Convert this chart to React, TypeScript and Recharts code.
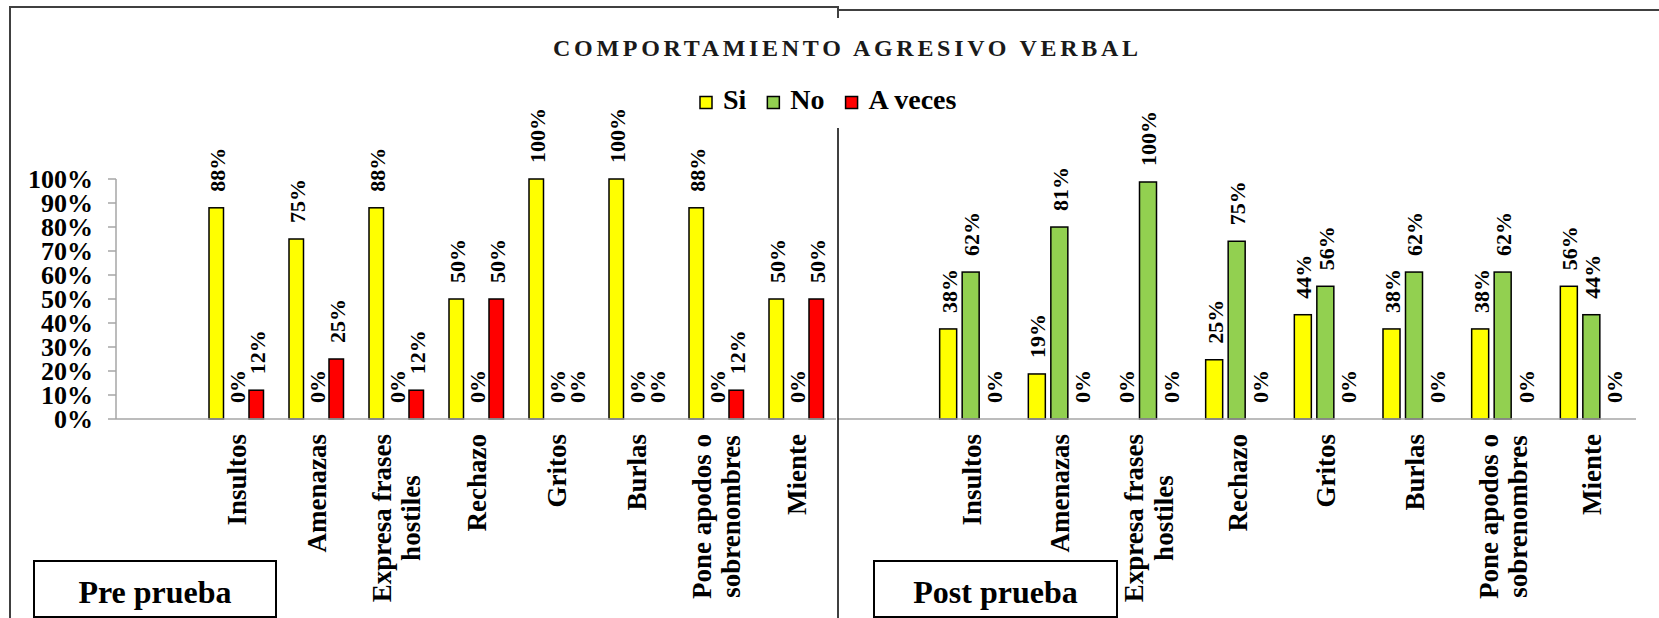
import { BarChart, Bar, XAxis, YAxis } from 'recharts';

const categories = [
  'Insultos',
  'Amenazas',
  'Expresa frases\nhostiles',
  'Rechazo',
  'Gritos',
  'Burlas',
  'Pone apodos o\nsobrenombres',
  'Miente',
];
const seriesNames = ['Si', 'No', 'A veces'];

// Pre prueba (%)
const preSi = [88, 75, 88, 50, 100, 100, 88, 50];
const preNo = [0, 0, 0, 0, 0, 0, 0, 0];
const preAveces = [12, 25, 12, 50, 0, 0, 12, 50];

// Post prueba (%)
const postSi = [38, 19, 0, 25, 44, 38, 38, 56];
const postNo = [62, 81, 100, 75, 56, 62, 62, 44];
const postAveces = [0, 0, 0, 0, 0, 0, 0, 0];

const yTicks = [0, 10, 20, 30, 40, 50, 60, 70, 80, 90, 100];

const title = 'COMPORTAMIENTO AGRESIVO VERBAL';
const panelTitles = ['Pre prueba', 'Post prueba'];

const FONT = "'Liberation Serif', 'Times New Roman', serif";
const COLORS = ['#FFFF00', '#92D050', '#FF0000'];
const KEYS = ['si', 'no', 'av'];
const AXIS_GREY = '#a6a6a6';
const FRAME = '#404040';

// first slot on the category axis is left empty, as in the original
function buildRows(si: number[], no: number[], av: number[]) {
  return [
    { name: '' },
    ...categories.map((name, i) => ({ name, si: si[i], no: no[i], av: av[i] })),
  ];
}

const preRows = buildRows(preSi, preNo, preAveces);
const postRows = buildRows(postSi, postNo, postAveces);

let measureCtx: CanvasRenderingContext2D | null = null;
function textWidth(s: string, size: number) {
  if (!measureCtx) measureCtx = document.createElement('canvas').getContext('2d');
  if (!measureCtx) return s.length * size * 0.5;
  measureCtx.font = `bold ${size}px ${FONT}`;
  return measureCtx.measureText(s).width;
}

function CategoryTick(props: any) {
  const { x, y, payload } = props;
  if (!payload || !payload.value) return null;
  const lines = String(payload.value).split('\n');
  const n = lines.length;
  const lh = 29.5;
  const common = {
    fontFamily: FONT,
    fontSize: 27,
    fontWeight: 'bold' as const,
    fill: '#000',
  };
  if (n === 1) {
    return (
      <text transform={`translate(${x},${y}) rotate(-90)`} textAnchor="end" dy="0.36em" {...common}>
        {lines[0]}
      </text>
    );
  }
  const w = Math.max(...lines.map((l) => textWidth(l, 27)));
  return (
    <g transform={`translate(${x},${y}) rotate(-90)`}>
      {lines.map((l, i) => (
        <text key={i} x={-w / 2} y={(i - (n - 1) / 2) * lh} dy="0.36em" textAnchor="middle" {...common}>
          {l}
        </text>
      ))}
    </g>
  );
}

// bar + its rotated value label; zero values get a 1px min size so they still come through here
function makeShape(key: string, color: string) {
  return (props: any) => {
    const { x, y, width, height, payload } = props;
    const value = payload ? payload[key] : null;
    if (value == null) return <g />;
    const top = value > 0 ? y : y + height;
    const cx = x + width / 2;
    return (
      <g>
        {value > 0 && (
          <rect x={x} y={y} width={width} height={height} fill={color} stroke="#000" strokeWidth={1.5} />
        )}
        <text
          transform={`translate(${cx},${top - 16}) rotate(-90)`}
          textAnchor="start"
          dy="0.38em"
          fontFamily={FONT}
          fontSize={22}
          fontWeight="bold"
          fill="#000"
        >
          {`${value}%`}
        </text>
      </g>
    );
  };
}

const shapes = KEYS.map((k, i) => makeShape(k, COLORS[i]));

function renderBars(barSize: number) {
  return KEYS.map((k, i) => (
    <Bar
      key={k}
      dataKey={k}
      name={seriesNames[i]}
      fill={COLORS[i]}
      barSize={barSize}
      minPointSize={1}
      shape={shapes[i]}
      isAnimationActive={false}
    />
  ));
}

function Legend() {
  let cx = 700;
  const items = seriesNames.map((name, i) => {
    const sq = cx;
    const tx = cx + 23;
    cx = tx + textWidth(name, 28) + 21;
    return (
      <g key={name}>
        <rect x={sq} y={96.5} width={12} height={12} fill={COLORS[i]} stroke="#000" strokeWidth={1.5} />
        <text x={tx} y={109} fontFamily={FONT} fontSize={28} fontWeight="bold" fill="#000">
          {name}
        </text>
      </g>
    );
  });
  return <g>{items}</g>;
}

export default function App() {
  return (
    <div
      style={{
        position: 'absolute',
        left: 0,
        top: 0,
        width: 1659,
        height: 618,
        background: '#fff',
        overflow: 'hidden',
      }}
    >
      <div style={{ position: 'absolute', left: 0, top: 0 }}>
        <BarChart
          width={840}
          height={618}
          data={preRows}
          margin={{ top: 179, right: 4, left: 0, bottom: 0 }}
          barGap={5.5}
        >
          <XAxis
            dataKey="name"
            interval={0}
            height={199}
            tickLine={false}
            tickSize={0}
            tickMargin={15}
            axisLine={{ stroke: AXIS_GREY, strokeWidth: 1.5 }}
            tick={<CategoryTick />}
          />
          <YAxis
            domain={[0, 100]}
            ticks={yTicks}
            interval={0}
            width={116}
            tickSize={8}
            tickMargin={15}
            tickFormatter={(v: number) => `${v}%`}
            axisLine={{ stroke: AXIS_GREY, strokeWidth: 1.5 }}
            tickLine={{ stroke: AXIS_GREY, strokeWidth: 1.5 }}
            tick={{ fontFamily: FONT, fontSize: 26, fontWeight: 'bold', fill: '#000' }}
          />
          {renderBars(14.5)}
        </BarChart>
      </div>

      <div style={{ position: 'absolute', left: 838, top: 0 }}>
        <BarChart
          width={800}
          height={618}
          data={postRows}
          margin={{ top: 182, right: 2, left: 0, bottom: 0 }}
          barGap={5.5}
        >
          <XAxis
            dataKey="name"
            interval={0}
            height={199}
            tickLine={false}
            tickSize={0}
            tickMargin={15}
            axisLine={{ stroke: AXIS_GREY, strokeWidth: 1.5 }}
            tick={<CategoryTick />}
          />
          <YAxis domain={[0, 100]} hide />
          {renderBars(17)}
        </BarChart>
      </div>

      <svg
        width={1659}
        height={618}
        style={{ position: 'absolute', left: 0, top: 0, pointerEvents: 'none' }}
      >
        {/* frames of the two pasted panels */}
        <line x1={10} y1={7} x2={838} y2={7} stroke={FRAME} strokeWidth={2} />
        <line x1={10} y1={6} x2={10} y2={618} stroke={FRAME} strokeWidth={2} />
        <line x1={838} y1={6} x2={838} y2={18} stroke={FRAME} strokeWidth={2} />
        <line x1={838} y1={10} x2={1659} y2={10} stroke={FRAME} strokeWidth={2} />
        <line x1={838} y1={128} x2={838} y2={618} stroke="#000" strokeWidth={1.5} />

        <text
          x={553}
          y={56}
          textLength={585}
          lengthAdjust="spacing"
          fontFamily={FONT}
          fontSize={24}
          fontWeight="bold"
          fill="#1a1a1a"
        >
          {title}
        </text>

        <Legend />

        <rect x={34} y={561} width={242} height={56} fill="#fff" stroke="#000" strokeWidth={2} />
        <text x={155} y={603} textAnchor="middle" fontFamily={FONT} fontSize={32} fontWeight="bold" fill="#000">
          {panelTitles[0]}
        </text>
        <rect x={874} y={561} width={243} height={56} fill="#fff" stroke="#000" strokeWidth={2} />
        <text x={995.5} y={603} textAnchor="middle" fontFamily={FONT} fontSize={32} fontWeight="bold" fill="#000">
          {panelTitles[1]}
        </text>
      </svg>
    </div>
  );
}
